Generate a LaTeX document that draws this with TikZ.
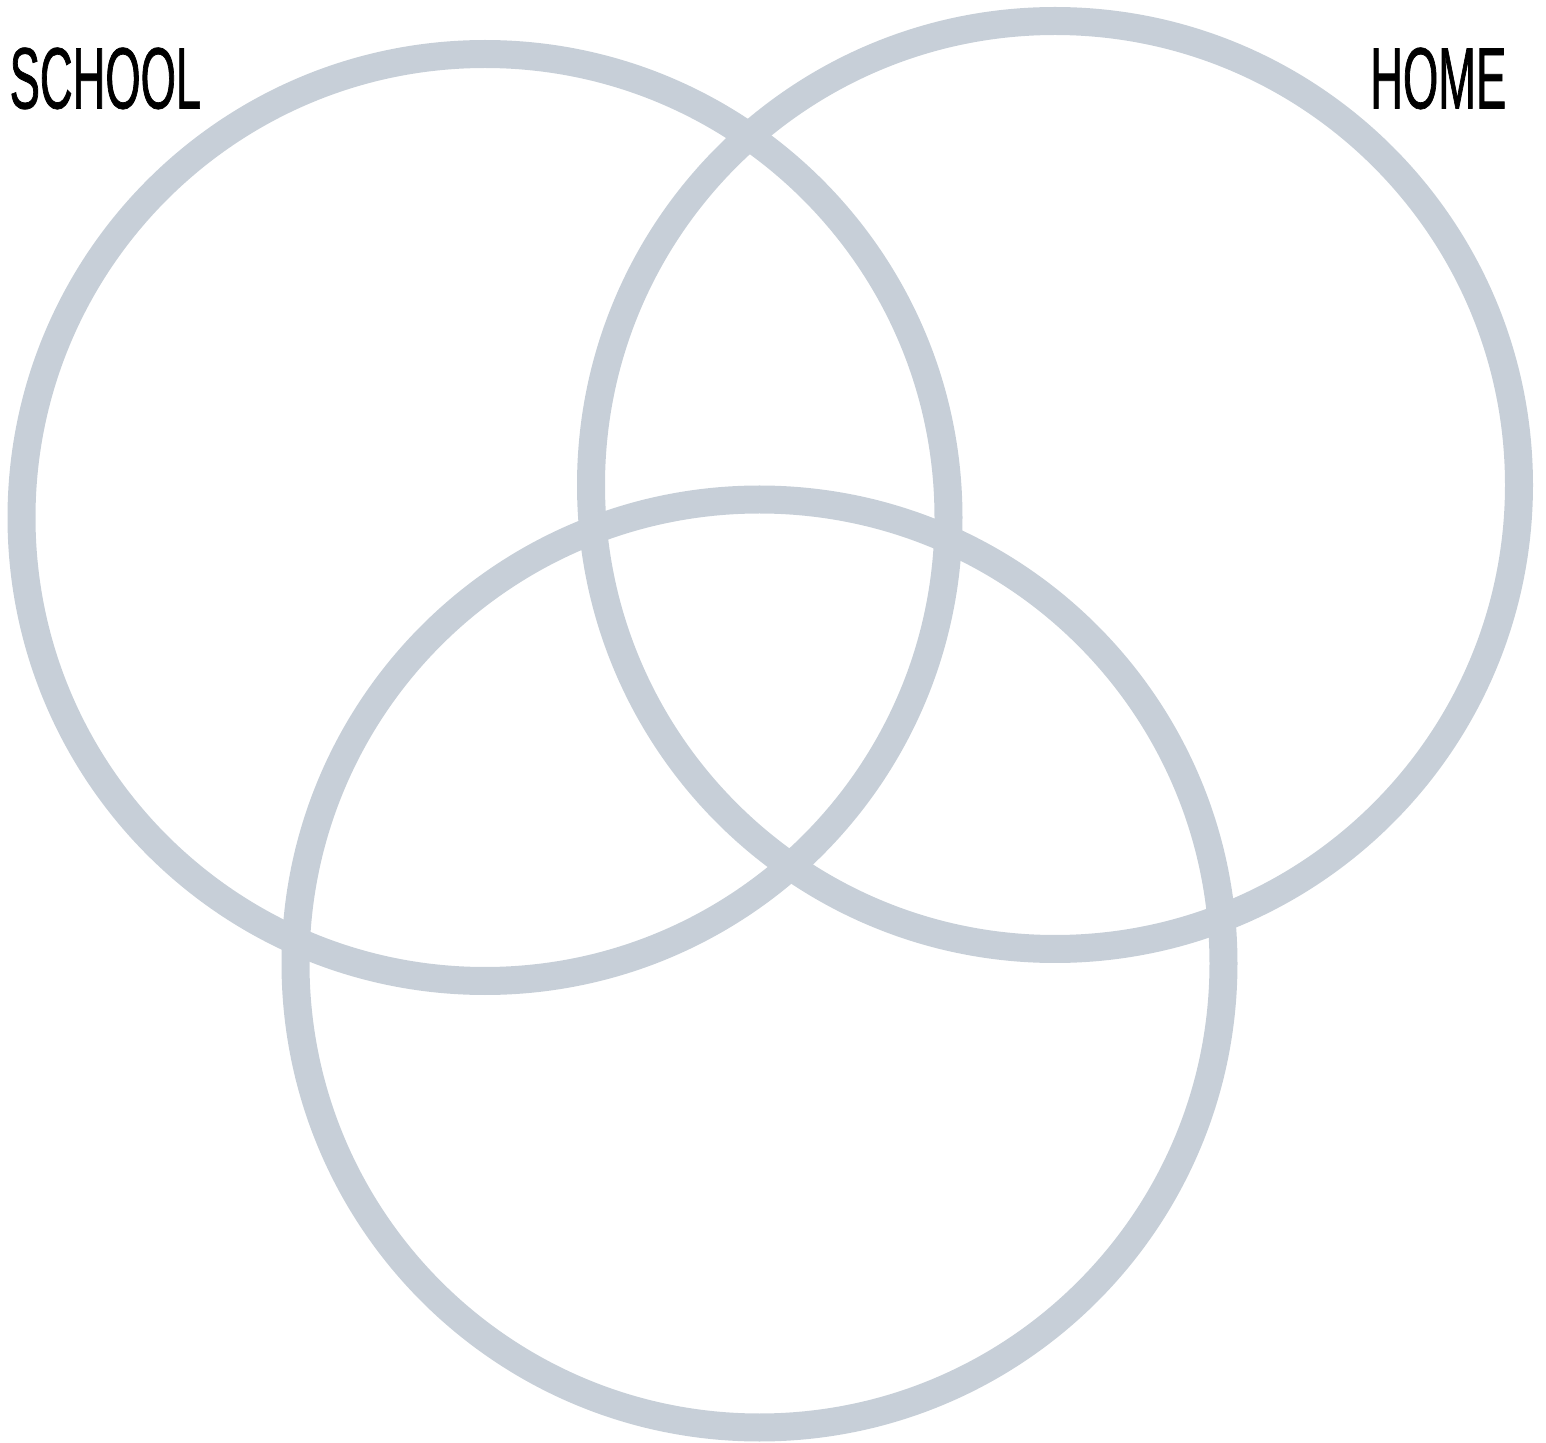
\documentclass[tikz,border=0pt]{standalone}
\usepackage{fontspec}
\newfontfamily\labelfont[FakeStretch=0.52,FakeBold=0.8]{Liberation Sans}
\usepackage{tikz}
\usetikzlibrary{positioning}
\definecolor{ringgrey}{RGB}{199,207,216}

\begin{document}
\begin{tikzpicture}[
    ring/.style={draw=ringgrey, line width=0.28cm},
    lbl/.style={font=\labelfont\fontsize{24.8}{28}\selectfont, inner sep=0pt},
    x=1cm, y=1cm
]
    \useasboundingbox (0,0) rectangle (15.46,14.42);

    \draw[ring] (4.85,9.245) circle (4.635) coordinate (school);
    \draw[ring] (10.55,9.57) circle (4.64) coordinate (home);
    \draw[ring] (7.595,4.785) circle (4.64) coordinate (third);

    \node[lbl, anchor=south west] (schoollbl) at (0.09,13.32) {SCHOOL};
    \node[lbl, anchor=south east] (homelbl) at (15.07,13.32) {HOME};
\end{tikzpicture}
\end{document}
